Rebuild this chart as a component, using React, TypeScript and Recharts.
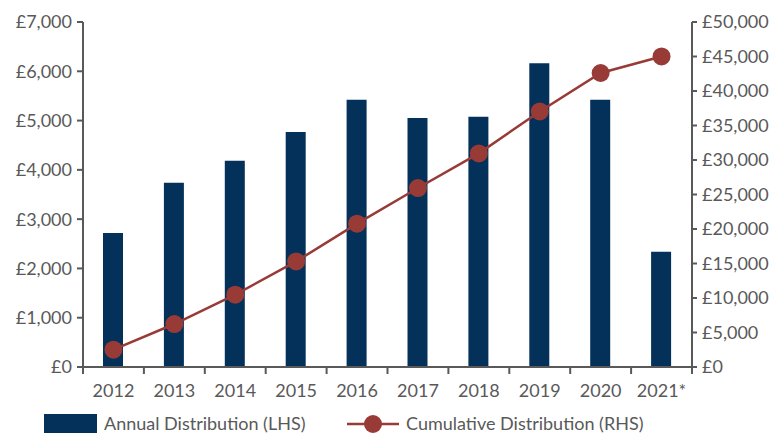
import {
  ComposedChart,
  Bar,
  Line,
  XAxis,
  YAxis,
  Legend,
} from "recharts";

const FONT = "Lato, 'Open Sans', sans-serif";
const GREY = "#595959";
const NAVY = "#03315a";
const RED = "#983b37";

const years = ["2012", "2013", "2014", "2015", "2016", "2017", "2018", "2019", "2020", "2021*"];
const annual = [2720, 3740, 4185, 4770, 5420, 5050, 5080, 6165, 5420, 2340];
const cumulative = [2510, 6230, 10480, 15300, 20770, 25940, 30960, 37040, 42610, 45010];
const leftTicks = [0, 1000, 2000, 3000, 4000, 5000, 6000, 7000];
const rightTicks = [0, 5000, 10000, 15000, 20000, 25000, 30000, 35000, 40000, 45000, 50000];

const data = years.map((year, i) => ({ year, annual: annual[i], cumulative: cumulative[i] }));

const W = 778;
const H = 435;
const LEFT_W = 83;
const RIGHT_W = 86;
const BAND = (W - LEFT_W - RIGHT_W) / years.length;

const pound = (v: number) => `£${v.toLocaleString("en-GB")}`;

function YearTick(props: any) {
  const { x, y, payload, index } = props;
  const top = y - 8;
  return (
    <g>
      <line x1={x - BAND / 2} x2={x - BAND / 2} y1={top} y2={top + 7} stroke={GREY} strokeWidth={2} />
      {index === years.length - 1 && (
        <line x1={x + BAND / 2} x2={x + BAND / 2} y1={top} y2={top + 7} stroke={GREY} strokeWidth={2} />
      )}
      <text x={x} y={top + 30} textAnchor="middle" fill={GREY} fontSize={18} fontFamily={FONT}>
        {payload.value}
      </text>
    </g>
  );
}

function LegendBox() {
  return (
    <div style={{ position: "relative", height: 30, fontFamily: FONT, fontSize: 18, lineHeight: 1.2, color: GREY }}>
      <div style={{ position: "absolute", left: 44, top: 9, width: 53, height: 19, background: NAVY }} />
      <span style={{ position: "absolute", left: 104, top: 8, whiteSpace: "nowrap" }}>Annual Distribution (LHS)</span>
      <svg style={{ position: "absolute", left: 345, top: 8 }} width={56} height={22}>
        <line x1={2} x2={54} y1={11} y2={11} stroke={RED} strokeWidth={2.5} />
        <circle cx={28} cy={11} r={9} fill={RED} />
      </svg>
      <span style={{ position: "absolute", left: 406, top: 8, whiteSpace: "nowrap" }}>Cumulative Distribution (RHS)</span>
    </div>
  );
}

export default function App() {
  return (
    <div style={{ position: "absolute", left: 0, top: 0, width: W, height: H, background: "#fff" }}>
      <ComposedChart
        width={W}
        height={H}
        data={data}
        margin={{ top: 22, right: 0, left: 0, bottom: 8 }}
        barCategoryGap={0}
      >
        <XAxis
          dataKey="year"
          height={30}
          axisLine={{ stroke: GREY, strokeWidth: 2 }}
          tickLine={false}
          tick={<YearTick />}
          interval={0}
        />
        <YAxis
          yAxisId="left"
          width={LEFT_W}
          domain={[0, 7000]}
          ticks={leftTicks}
          tickFormatter={pound}
          axisLine={{ stroke: GREY, strokeWidth: 2 }}
          tickLine={{ stroke: GREY, strokeWidth: 2 }}
          tickSize={6}
          tickMargin={5}
          tick={{ fill: GREY, fontSize: 18, fontFamily: FONT }}
        />
        <YAxis
          yAxisId="right"
          orientation="right"
          width={RIGHT_W}
          domain={[0, 50000]}
          ticks={rightTicks}
          tickFormatter={pound}
          axisLine={{ stroke: GREY, strokeWidth: 2 }}
          tickLine={{ stroke: GREY, strokeWidth: 2 }}
          tickSize={5}
          tickMargin={5}
          tick={{ fill: GREY, fontSize: 18, fontFamily: FONT }}
        />
        <Legend height={30} wrapperStyle={{ position: "absolute", left: 0, top: 405, width: W }} content={<LegendBox />} />
        <Bar yAxisId="left" dataKey="annual" fill={NAVY} barSize={20} isAnimationActive={false} />
        <Line
          yAxisId="right"
          dataKey="cumulative"
          type="linear"
          stroke={RED}
          strokeWidth={2.5}
          dot={{ r: 9, fill: RED, stroke: "none" }}
          activeDot={false}
          isAnimationActive={false}
        />
      </ComposedChart>
    </div>
  );
}
